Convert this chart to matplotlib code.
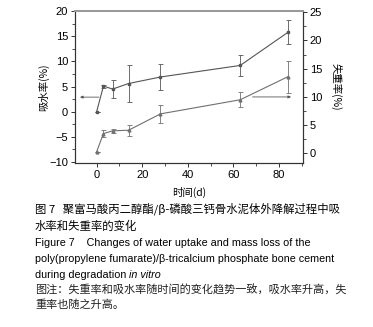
import matplotlib.pyplot as plt
from matplotlib.ticker import MultipleLocator

# time points (d)
days = [0, 3, 7, 14, 28, 63, 84]

# water uptake (%) - left axis
water = [0.0, 5.1, 4.5, 5.6, 6.9, 9.2, 15.8]
water_err = [0.0, 0.3, 1.85, 3.6, 2.5, 2.05, 2.35]

# mass loss (%) - right axis
mass = [0.3, 3.5, 4.0, 4.1, 7.0, 9.5, 13.6]
mass_err = [0.0, 0.6, 0.3, 1.0, 1.6, 1.35, 2.85]

caption_cn = [
    "图 7   聚富马酸丙二醇酯/β-磷酸三钙骨水泥体外降解过程中吸",
    "水率和失重率的变化",
]
caption_en = [
    "Figure 7    Changes of water uptake and mass loss of the",
    "poly(propylene fumarate)/β-tricalcium phosphate bone cement",
    "during degradation ",
    "in vitro",
]
note_cn = [
    "图注：失重率和吸水率随时间的变化趋势一致，吸水率升高，失",
    "重率也随之升高。",
]

plt.rcParams.update(
    {
        "font.family": ["Liberation Sans", "Noto Sans CJK SC"],
        "font.size": 8,
        "xtick.labelsize": 8,
        "ytick.labelsize": 8,
    }
)

line_c = "#555555"
cjk = ["Noto Sans CJK SC", "Liberation Sans"]

fig = plt.figure(figsize=(3.73, 3.27), dpi=100)
ax = fig.add_axes([0.201, 0.5015, 0.611, 0.4645])
ax2 = ax.twinx()

ax.errorbar(days, water, yerr=water_err, color=line_c, marker="s", markersize=1.8,
            linewidth=0.8, elinewidth=0.6, capsize=1.8, capthick=0.6)
ax2.errorbar(days, mass, yerr=mass_err, color="#707070", marker="^", markersize=2,
             linewidth=0.8, elinewidth=0.6, capsize=1.8, capthick=0.6)

ax.set_xlim(-9.5, 90.5)
ax.set_ylim(-10.2, 20)
ax2.set_ylim(-1.7, 25.2)

ax.xaxis.set_major_locator(MultipleLocator(20))
ax.xaxis.set_minor_locator(MultipleLocator(10))
ax.yaxis.set_major_locator(MultipleLocator(5))
ax.yaxis.set_minor_locator(MultipleLocator(2.5))
ax2.yaxis.set_major_locator(MultipleLocator(5))
ax2.yaxis.set_minor_locator(MultipleLocator(2.5))

for a in (ax, ax2):
    a.tick_params(which="major", length=3, width=0.7, color="#333333", pad=2)
    a.tick_params(which="minor", length=2, width=0.6, color="#333333")
    for s in a.spines.values():
        s.set_linewidth(0.8)
        s.set_color("#333333")
    a.spines["top"].set_color("#999999")
    a.spines["top"].set_linewidth(1.4)

# arrows pointing to the axis each curve belongs to
ax.annotate("", xy=(-7.3, 2.9), xytext=(1.0, 2.9),
            arrowprops=dict(arrowstyle="-|>", color=line_c, lw=0.6,
                            mutation_scale=4, shrinkA=0, shrinkB=0))
ax2.annotate("", xy=(85.3, 10.0), xytext=(68.4, 10.0),
             arrowprops=dict(arrowstyle="-|>", color=line_c, lw=0.6,
                             mutation_scale=4, shrinkA=0, shrinkB=0))

ax.set_xlabel("时间(d)", family=cjk, fontsize=7.5, labelpad=5)
ax.set_ylabel("吸水率(%)", family=cjk, fontsize=7.5, labelpad=0)
ax2.set_ylabel("失重率(%)", family=cjk, fontsize=7.5, rotation=270, labelpad=14)

x0 = 35 / 373
fig.text(x0, 1 - 209 / 327, caption_cn[0], family=cjk, fontsize=8.2, weight="medium", va="center")
fig.text(x0, 1 - 226 / 327, caption_cn[1], family=cjk, fontsize=8.2, weight="medium", va="center")
fig.text(x0, 1 - 243 / 327, caption_en[0], fontsize=7.75, va="center")
fig.text(x0, 1 - 259 / 327, caption_en[1], fontsize=7.75, va="center")
t = fig.text(x0, 1 - 275 / 327, caption_en[2], fontsize=7.75, va="center")
fig.canvas.draw()
bb = t.get_window_extent().transformed(fig.transFigure.inverted())
fig.text(bb.x1, 1 - 275 / 327, caption_en[3], fontsize=7.75, style="italic", va="center")
fig.text(x0, 1 - 290 / 327, note_cn[0], family=cjk, fontsize=8, va="center", color="#222222")
fig.text(x0, 1 - 305 / 327, note_cn[1], family=cjk, fontsize=8, va="center", color="#222222")

fig.savefig("out.png", dpi=100)
